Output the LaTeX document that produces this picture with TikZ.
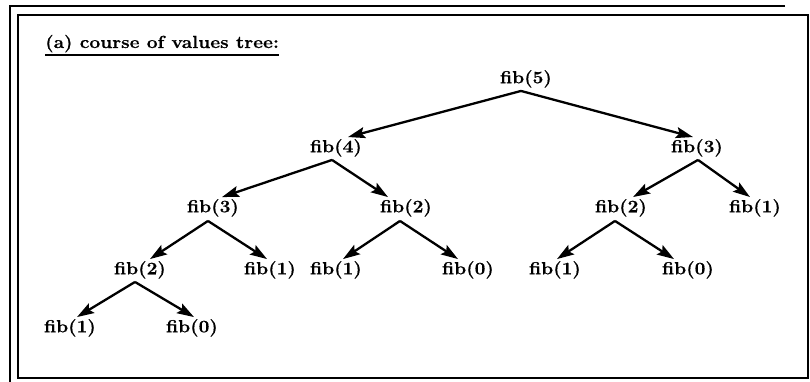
\documentclass[tikz,border=0pt]{standalone}
\usepackage{fontspec}
\newfontfamily\labfont{Latin Modern Roman}[FakeStretch=1.1, BoldFeatures={FakeBold=0.6}]
\usetikzlibrary{arrows.meta,calc}
\begin{document}
\begin{tikzpicture}[x=1pt,y=-1pt,
  lab/.style={font=\labfont\fontsize{17.5}{20}\selectfont\bfseries},
  call/.style={lab, inner xsep=0pt, inner ysep=0pt, text height=13pt, text depth=4.5pt},
  arr/.style={line width=2.3pt, -{Stealth[length=17pt,width=11pt,inset=3pt]}, line join=miter},
  frame/.style={line width=1.5pt}]
\useasboundingbox (0,0) rectangle (810,382);
% frame with an offset edge on top and left
\draw[frame] (18,15) rectangle (808,378);
\draw[line width=1.1pt] (785,6) -- (10,6) -- (10,382);
% heading
\node[lab, anchor=base west, inner sep=0pt] (title) at (45,48) {(a) course of values tree:};
\draw[line width=1.3pt] ([yshift=-7pt]title.base west) -- ([yshift=-7pt]title.base east);
% calls
\node[call] (n5)   at (526,79)  {fib(5)};
\node[call] (n4)   at (336,148) {fib(4)};
\node[call] (n3r)  at (697,148) {fib(3)};
\node[call] (n3l)  at (213,208) {fib(3)};
\node[call] (n2m)  at (406,208) {fib(2)};
\node[call] (n2r)  at (621,208) {fib(2)};
\node[call] (n1r)  at (755,208) {fib(1)};
\node[call] (n2l)  at (140,270) {fib(2)};
\node[call] (n1a)  at (270,270) {fib(1)};
\node[call] (n1b)  at (336,270) {fib(1)};
\node[call] (n0a)  at (468,270) {fib(0)};
\node[call] (n1c)  at (555,270) {fib(1)};
\node[call] (n0b)  at (688,270) {fib(0)};
\node[call] (n1d)  at (70,328)  {fib(1)};
\node[call] (n0c)  at (192,328) {fib(0)};
% recursive calls
\draw[arr] ([xshift=-5pt,yshift=-3pt]n5.south)  -- ([xshift=12pt,yshift=2pt]n4.north);
\draw[arr] ([xshift=-5pt,yshift=-3pt]n5.south)  -- ([xshift=-4pt,yshift=2pt]n3r.north);
\draw[arr] ([xshift=-4pt,yshift=-3pt]n4.south)  -- ([xshift=9pt,yshift=2pt]n3l.north);
\draw[arr] ([xshift=-4pt,yshift=-3pt]n4.south)  -- ([xshift=-18pt,yshift=2pt]n2m.north);
\draw[arr] ([xshift=1pt,yshift=-3pt]n3r.south)  -- ([xshift=12pt,yshift=2pt]n2r.north);
\draw[arr] ([xshift=1pt,yshift=-3pt]n3r.south)  -- ([xshift=-5pt,yshift=2pt]n1r.north);
\draw[arr] ([xshift=-5pt,yshift=-4pt]n3l.south) -- ([xshift=10pt,yshift=2pt]n2l.north);
\draw[arr] ([xshift=-5pt,yshift=-4pt]n3l.south) -- ([xshift=-3pt,yshift=2pt]n1a.north);
\draw[arr] ([xshift=-6pt,yshift=-4pt]n2m.south) -- ([xshift=7pt,yshift=2pt]n1b.north);
\draw[arr] ([xshift=-6pt,yshift=-4pt]n2m.south) -- ([xshift=-10pt,yshift=2pt]n0a.north);
\draw[arr] ([xshift=-6pt,yshift=-4pt]n2r.south) -- ([xshift=2pt,yshift=2pt]n1c.north);
\draw[arr] ([xshift=-6pt,yshift=-4pt]n2r.south) -- ([xshift=-14pt,yshift=2pt]n0b.north);
\draw[arr] ([xshift=-5pt,yshift=-3pt]n2l.south) -- ([xshift=7pt,yshift=2pt]n1d.north);
\draw[arr] ([xshift=-5pt,yshift=-3pt]n2l.south) -- ([xshift=2pt,yshift=2pt]n0c.north);
\end{tikzpicture}
\end{document}
